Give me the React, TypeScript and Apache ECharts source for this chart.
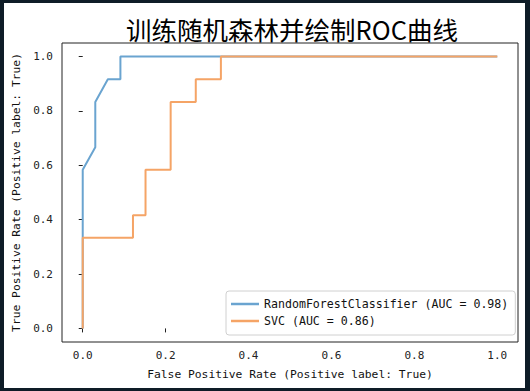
import React, { useEffect, useRef } from "react";
import * as echarts from "echarts";

const titleText = "训练随机森林并绘制ROC曲线";
const xAxisName = "False Positive Rate (Positive label: True)";
const yAxisName = "True Positive Rate (Positive label: True)";
const tickValues = [0, 0.2, 0.4, 0.6, 0.8, 1.0];

const rfName = "RandomForestClassifier (AUC = 0.98)";
const rfFpr = [0, 0, 0.0303, 0.0303, 0.0606, 0.0909, 0.0909, 1];
const rfTpr = [0, 0.5833, 0.6667, 0.8333, 0.9167, 0.9167, 1, 1];

const svcName = "SVC (AUC = 0.86)";
const svcFpr = [0, 0, 0.1212, 0.1212, 0.1515, 0.1515, 0.2121, 0.2121, 0.2727, 0.2727, 0.3333, 0.3333, 1];
const svcTpr = [0, 0.3333, 0.3333, 0.4167, 0.4167, 0.5833, 0.5833, 0.8333, 0.8333, 0.9167, 0.9167, 1, 1];

const MONO = "'DejaVu Sans Mono', 'Liberation Mono', monospace";

export default function App() {
  const ref = useRef<HTMLDivElement>(null);
  useEffect(() => {
    document.body.style.margin = "0";
    const chart = echarts.init(ref.current!, null, { renderer: "svg" });
    const zip = (xs: number[], ys: number[]) => xs.map((x, i) => [x, ys[i]]);
    chart.setOption({
      animation: false,
      title: {
        text: titleText,
        left: 287,
        textAlign: "center",
        top: 11,
        textStyle: { fontFamily: "'Noto Sans CJK SC'", fontSize: 25.5, fontWeight: "normal", color: "#000" },
      },
      grid: {
        left: 62,
        right: 12,
        top: 43,
        bottom: 49,
        show: true,
        borderColor: "#222",
        borderWidth: 1,
        backgroundColor: "transparent",
      },
      legend: {
        left: 226,
        top: 291,
        orient: "vertical",
        icon: "rect",
        itemWidth: 28,
        itemHeight: 2.5,
        itemGap: 5,
        padding: [7, 7, 8, 5],
        backgroundColor: "#fff",
        borderColor: "#d0d0d0",
        borderWidth: 1,
        borderRadius: 3,
        textStyle: { fontFamily: MONO, fontSize: 11.6, color: "#111" },
        data: [rfName, svcName],
      },
      xAxis: {
        type: "value",
        min: -0.05,
        max: 1.05,
        name: xAxisName,
        nameLocation: "middle",
        nameGap: 27,
        nameTextStyle: { fontFamily: MONO, fontSize: 11.3, color: "#111" },
        axisLine: { show: false },
        splitLine: { show: false },
        axisTick: { show: true, inside: false, length: 4, customValues: tickValues, lineStyle: { color: "#222" } },
        axisLabel: {
          customValues: tickValues,
          margin: 8,
          fontFamily: MONO,
          fontSize: 11,
          color: "#222",
          formatter: (v: number) => v.toFixed(1),
        },
      },
      yAxis: {
        type: "value",
        min: -0.05,
        max: 1.05,
        name: yAxisName,
        nameLocation: "middle",
        nameGap: 40,
        nameRotate: 90,
        nameTextStyle: { fontFamily: MONO, fontSize: 11.3, color: "#111" },
        axisLine: { show: false },
        splitLine: { show: false },
        axisTick: { show: true, inside: false, length: 4, customValues: tickValues, lineStyle: { color: "#222" } },
        axisLabel: {
          customValues: tickValues,
          margin: 9,
          fontFamily: MONO,
          fontSize: 11,
          color: "#222",
          formatter: (v: number) => v.toFixed(1),
        },
      },
      series: [
        {
          name: rfName,
          type: "line",
          data: zip(rfFpr, rfTpr),
          symbol: "none",
          lineStyle: { color: "#6aa4d0", width: 2 },
          itemStyle: { color: "#6aa4d0" },
        },
        {
          name: svcName,
          type: "line",
          data: zip(svcFpr, svcTpr),
          symbol: "none",
          lineStyle: { color: "#f5a466", width: 2 },
          itemStyle: { color: "#f5a466" },
        },
      ],
    });
    return () => chart.dispose();
  }, []);
  return (
    <div style={{ position: "fixed", left: 0, top: 0, width: 530, height: 391, background: "#0e1c27" }}>
      <div style={{ position: "absolute", left: 4, top: 3, width: 521, height: 385, background: "#fff" }} />
      <div ref={ref} style={{ position: "absolute", left: 0, top: 0, width: 530, height: 391 }} />
    </div>
  );
}
